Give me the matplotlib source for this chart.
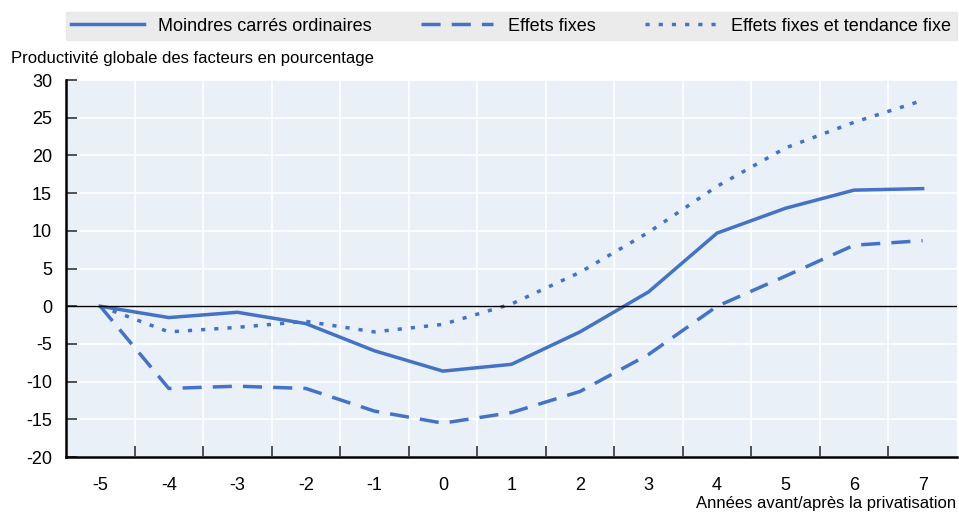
import matplotlib.pyplot as plt
from matplotlib.lines import Line2D
from matplotlib import font_manager

# Données
annees = [-5, -4, -3, -2, -1, 0, 1, 2, 3, 4, 5, 6, 7]
mco = [0, -1.5, -0.8, -2.3, -5.9, -8.6, -7.7, -3.4, 1.9, 9.7, 13.0, 15.4, 15.6]
effets_fixes = [0, -10.9, -10.6, -10.9, -13.9, -15.5, -14.1, -11.3, -6.4, 0, 4.0, 8.1, 8.7]
effets_tendance = [0, -3.4, -2.8, -2.0, -3.4, -2.4, 0.3, 4.5, 9.8, 15.9, 21.0, 24.4, 27.3]
y_ticks = [-20, -15, -10, -5, 0, 5, 10, 15, 20, 25, 30]

names = {f.name for f in font_manager.fontManager.ttflist}
famille = "Liberation Sans Narrow" if "Liberation Sans Narrow" in names else "Liberation Sans"
plt.rcParams["font.family"] = [famille, "DejaVu Sans"]

BLEU = "#4472C4"
FOND = "#EAF0F8"

fig = plt.figure(figsize=(9.59, 5.13), dpi=100)
ax = fig.add_axes([0.0688, 0.109, 0.929, 0.735])

x = list(range(len(annees)))
ax.plot(x, mco, color=BLEU, lw=2.5, solid_joinstyle="miter")
ax.plot(x, effets_fixes, color=BLEU, lw=2.5, dashes=(5.5, 3.2))
ax.plot(x, effets_tendance, color=BLEU, lw=2.5, dashes=(1.2, 2.6))
ax.axhline(0, color="black", lw=1)

ax.set_facecolor(FOND)
ax.set_xlim(-0.5, len(annees) - 0.5)
ax.set_ylim(-20, 30)
ax.set_yticks(y_ticks)
ax.set_yticklabels([str(v) for v in y_ticks])
ax.set_xticks(x)
ax.set_xticklabels([str(a) for a in annees])
ax.set_xticks([i + 0.5 for i in x[:-1]], minor=True)

ax.grid(True, which="major", axis="y", color="white", lw=1.2)
ax.grid(True, which="minor", axis="x", color="white", lw=1.2)
ax.set_axisbelow(True)

ax.tick_params(axis="x", which="major", length=0, labelsize=13, pad=14)
ax.tick_params(axis="x", which="minor", direction="in", length=8, width=1.2, color="#333333")
ax.tick_params(axis="y", direction="in", length=8, width=1.2, labelsize=13, pad=10, color="#333333")

for s in ["top", "right"]:
    ax.spines[s].set_visible(False)
for s in ["left", "bottom"]:
    ax.spines[s].set_linewidth(1.8)
    ax.spines[s].set_color("black")

fig.text(0.011, 0.886, "Productivité globale des facteurs en pourcentage", fontsize=12, va="center")
fig.text(0.997, 0.018, "Années avant/après la privatisation", fontsize=12, ha="right", va="center")

handles = [
    Line2D([], [], color=BLEU, lw=2.5),
    Line2D([], [], color=BLEU, lw=2.5, dashes=(5.5, 3.2)),
    Line2D([], [], color=BLEU, lw=2.5, dashes=(1.2, 2.6)),
]
labels = ["Moindres carrés ordinaires", "Effets fixes", "Effets fixes et tendance fixe"]
leg = fig.legend(handles, labels, loc="center", bbox_to_anchor=(0.0688, 0.918, 0.929, 0.062),
                 mode="expand", ncol=3, frameon=True, fontsize=13, handlelength=4,
                 borderaxespad=0, columnspacing=3, fancybox=False, borderpad=0.3)
leg.get_frame().set_facecolor("#E6E6E6")
leg.get_frame().set_edgecolor("#E6E6E6")

fig.savefig("out.png", dpi=100)
